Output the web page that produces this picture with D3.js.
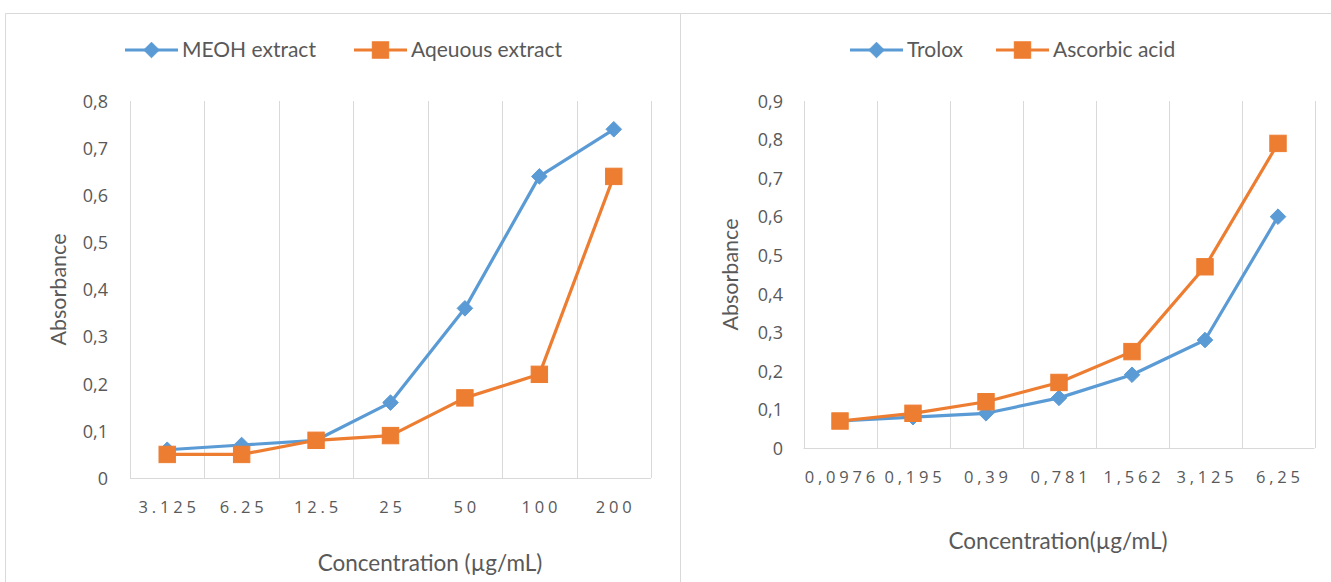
<!DOCTYPE html>
<html>
<head>
<meta charset="utf-8">
<script src="https://cdn.jsdelivr.net/npm/d3@7"></script>
<style>
  html, body { margin: 0; padding: 0; background: #fff; }
  svg { display: block; }
  text { font-family: Lato, "Open Sans", sans-serif; fill: #595959; }
</style>
</head>
<body>
<svg id="chart" width="1331" height="582"></svg>
<script>
// Extract assay (left panel)
const extractConcentrations = ["3.125", "6.25", "12.5", "25", "50", "100", "200"];
const meohValues = [0.06, 0.07, 0.08, 0.16, 0.36, 0.64, 0.74];
const aqueousValues = [0.05, 0.05, 0.08, 0.09, 0.17, 0.22, 0.64];
const extractYTicks = [0, 0.1, 0.2, 0.3, 0.4, 0.5, 0.6, 0.7, 0.8];

// Standards (right panel)
const standardConcentrations = ["0,0976", "0,195", "0,39", "0,781", "1,562", "3,125", "6,25"];
const troloxValues = [0.07, 0.08, 0.09, 0.13, 0.19, 0.28, 0.60];
const ascorbicValues = [0.07, 0.09, 0.12, 0.17, 0.25, 0.47, 0.79];
const standardYTicks = [0, 0.1, 0.2, 0.3, 0.4, 0.5, 0.6, 0.7, 0.8, 0.9];

const BLUE = "#5b9bd5", ORANGE = "#ed7d31", GRID = "#d9d9d9";
const TITLE_FONT = 'Lato, "Open Sans", sans-serif';
const TICK_FONT = '"Open Sans", sans-serif';
const svg = d3.select("#chart");
const fmt = v => d3.format(".1f")(v).replace(".", ",").replace(/^0,0$/, "0");

// panel frames
svg.append("path")
  .attr("d", "M5.5,582 V13.5 H1331 M680.5,13.5 V582")
  .attr("fill", "none").attr("stroke", GRID).attr("stroke-width", 1);

function panel(cfg) {
  const g = svg.append("g");
  const x = d3.scaleBand().domain(cfg.categories).range([cfg.left, cfg.right]);
  const y = d3.scaleLinear().domain([0, d3.max(cfg.yTicks)]).range([cfg.bottom, cfg.top]);

  // vertical gridlines at category boundaries
  const edges = cfg.categories.map(c => x(c)).concat([cfg.right]);
  g.selectAll(".vg").data(edges).join("line")
    .attr("x1", d => Math.round(d) + 0.5).attr("x2", d => Math.round(d) + 0.5)
    .attr("y1", cfg.top).attr("y2", cfg.bottom)
    .attr("stroke", GRID).attr("stroke-width", 1);

  // baseline
  g.append("line")
    .attr("x1", cfg.left).attr("x2", cfg.right)
    .attr("y1", Math.round(cfg.bottom) + 0.5).attr("y2", Math.round(cfg.bottom) + 0.5)
    .attr("stroke", GRID).attr("stroke-width", 1.2);

  // y tick labels
  const yAxis = d3.axisLeft(y).tickValues(cfg.yTicks).tickFormat(fmt).tickSize(0).tickPadding(0);
  const ya = g.append("g").attr("transform", `translate(${cfg.yLabelX},0)`).call(yAxis);
  ya.select(".domain").remove();
  ya.selectAll("text").attr("font-size", 18).attr("fill", "#595959")
    .style("font-family", TICK_FONT).attr("dy", "0.35em");

  // x tick labels, spaced out
  const xAxis = d3.axisBottom(x).tickSize(0).tickPadding(0);
  const xa = g.append("g").attr("transform", `translate(0,${cfg.xLabelY})`).call(xAxis);
  xa.select(".domain").remove();
  xa.selectAll("text").attr("font-size", 16.5).attr("fill", "#595959")
    .style("font-family", TICK_FONT)
    .style("letter-spacing", "3.8px").attr("dy", "0.35em")
    .attr("dx", "1.9px");

  // axis titles
  g.append("text").attr("transform", `translate(${cfg.yTitleX},${(cfg.top + cfg.bottom) / 2}) rotate(-90)`)
    .attr("text-anchor", "middle").attr("dy", "0.35em").attr("font-size", 21.5)
    .style("font-family", TITLE_FONT).text("Absorbance");
  g.append("text").attr("x", cfg.xTitleX).attr("y", cfg.xTitleY)
    .attr("text-anchor", "middle").attr("dy", "0.35em").attr("font-size", 22.5)
    .style("font-family", TITLE_FONT).text(cfg.xTitle);

  // series
  const line = d3.line().x((d, i) => x(cfg.categories[i]) + x.bandwidth() / 2).y(d => y(d));
  cfg.series.forEach(s => {
    g.append("path").datum(s.values).attr("d", line)
      .attr("fill", "none").attr("stroke", s.color).attr("stroke-width", 3.2)
      .attr("stroke-linejoin", "round");
  });
  cfg.series.forEach(s => {
    const pts = g.append("g");
    s.values.forEach((v, i) => {
      drawMarker(pts, s.marker, x(cfg.categories[i]) + x.bandwidth() / 2, y(v), s.color);
    });
  });

  // legend
  cfg.series.forEach((s, i) => {
    const lx = cfg.legendX[i], ly = cfg.legendY;
    g.append("line").attr("x1", lx).attr("x2", lx + 53).attr("y1", ly).attr("y2", ly)
      .attr("stroke", s.color).attr("stroke-width", 3.2);
    drawMarker(g, s.marker, lx + 26.5, ly, s.color);
    g.append("text").attr("x", lx + 57).attr("y", ly).attr("dy", "0.35em")
      .attr("font-size", 21).style("font-family", TITLE_FONT).text(s.name);
  });
}

function drawMarker(sel, type, cx, cy, color) {
  if (type === "diamond") {
    const r = 7.8;
    sel.append("path")
      .attr("d", `M${cx},${cy - r} L${cx + r},${cy} L${cx},${cy + r} L${cx - r},${cy} Z`)
      .attr("fill", color).attr("stroke", color).attr("stroke-width", 1);
  } else {
    const h = 8.2;
    sel.append("rect").attr("x", cx - h).attr("y", cy - h).attr("width", 2 * h).attr("height", 2 * h)
      .attr("fill", color).attr("stroke", color).attr("stroke-width", 1);
  }
}

panel({
  categories: extractConcentrations, yTicks: extractYTicks,
  left: 130, right: 651, top: 101, bottom: 478,
  yLabelX: 108, xLabelY: 507, yTitleX: 58, xTitleX: 430, xTitleY: 563,
  xTitle: "Concentration (µg/mL)",
  legendX: [125, 354], legendY: 50,
  series: [
    { name: "MEOH extract", values: meohValues, color: BLUE, marker: "diamond" },
    { name: "Aqeuous extract", values: aqueousValues, color: ORANGE, marker: "square" }
  ]
});

panel({
  categories: standardConcentrations, yTicks: standardYTicks,
  left: 803.5, right: 1314.5, top: 101, bottom: 448,
  yLabelX: 783, xLabelY: 477, yTitleX: 730, xTitleX: 1058, xTitleY: 541,
  xTitle: "Concentration(µg/mL)",
  legendX: [850, 996], legendY: 50,
  series: [
    { name: "Trolox", values: troloxValues, color: BLUE, marker: "diamond" },
    { name: "Ascorbic acid", values: ascorbicValues, color: ORANGE, marker: "square" }
  ]
});
</script>
</body>
</html>
